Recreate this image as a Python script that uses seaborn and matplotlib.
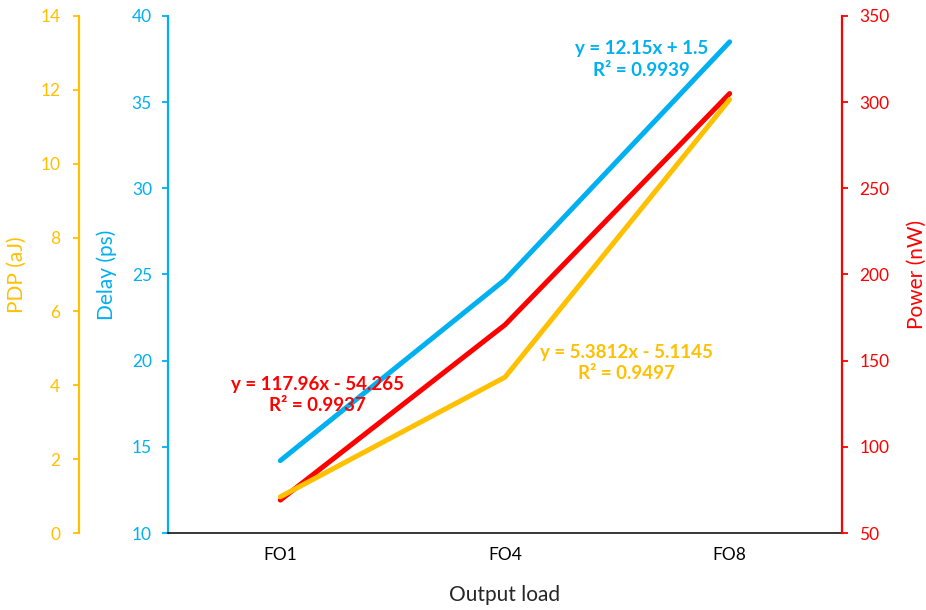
import matplotlib
matplotlib.use("Agg")
import matplotlib.pyplot as plt
import seaborn as sns
import pandas as pd

# values
loads = ["FO1", "FO4", "FO8"]
delay_ps = [14.2, 24.7, 38.5]
power_nw = [69.1, 170.8, 305.0]
pdp_aj = [0.98, 4.22, 11.74]

delay_ticks = [10, 15, 20, 25, 30, 35, 40]
power_ticks = [50, 100, 150, 200, 250, 300, 350]
pdp_ticks = [0, 2, 4, 6, 8, 10, 12, 14]

delay_fit = "y = 12.15x + 1.5\nR² = 0.9939"
power_fit = "y = 117.96x - 54.265\nR² = 0.9937"
pdp_fit = "y = 5.3812x - 5.1145\nR² = 0.9497"

BLUE = "#00B0F0"
RED = "#FF0000"
YELLOW = "#FFC000"

sns.set_style("ticks")
plt.rcParams["font.family"] = ["Lato", "DejaVu Sans"]

df = pd.DataFrame({"load": loads, "delay": delay_ps, "power": power_nw, "pdp": pdp_aj})

fig = plt.figure(figsize=(9.26, 6.10), dpi=100)
ax = fig.add_axes([0.1814, 0.1262, 0.7279, 0.8476])
ax_p = ax.twinx()
ax_e = ax.twinx()

line_kw = dict(lw=3.6, solid_capstyle="round", sort=False)
sns.lineplot(data=df, x="load", y="delay", ax=ax, color=BLUE, **line_kw)
sns.lineplot(data=df, x="load", y="power", ax=ax_p, color=RED, **line_kw)
sns.lineplot(data=df, x="load", y="pdp", ax=ax_e, color=YELLOW, **line_kw)

ax.set_xlim(-0.5, 2.5)
ax.set_ylim(10, 40)
ax_p.set_ylim(50, 350)
ax_e.set_ylim(0, 14)
ax.set_yticks(delay_ticks)
ax_p.set_yticks(power_ticks)
ax_e.set_yticks(pdp_ticks)

TICK = 12.5
LABEL = 15

# primary (delay) axis
for s in ["top", "right"]:
    ax.spines[s].set_visible(False)
ax.spines["left"].set_color(BLUE)
ax.spines["left"].set_linewidth(1.6)
ax.spines["bottom"].set_color("black")
ax.spines["bottom"].set_linewidth(1.1)
ax.tick_params(axis="y", colors=BLUE, labelsize=TICK, length=4.5, width=1.3, pad=7)
ax.tick_params(axis="x", length=0, labelsize=TICK, pad=10, colors="black")
ax.set_ylabel("Delay (ps)", color=BLUE, fontsize=LABEL)
ax.yaxis.set_label_coords(-0.0757, 0.5)
ax.set_xlabel("Output load", fontsize=LABEL)
ax.xaxis.set_label_coords(0.5, -0.1)

# power axis on the right
for s in ["top", "left", "bottom"]:
    ax_p.spines[s].set_visible(False)
ax_p.spines["right"].set_color(RED)
ax_p.spines["right"].set_linewidth(1.6)
ax_p.tick_params(axis="y", colors=RED, labelsize=TICK, length=4.5, width=1.3, pad=8)
ax_p.set_ylabel("Power (nW)", color=RED, fontsize=LABEL)
ax_p.yaxis.set_label_coords(1.0964, 0.5)

# pdp axis, offset to the far left (89 px = 64 pt)
for s in ["top", "right", "bottom"]:
    ax_e.spines[s].set_visible(False)
ax_e.spines["left"].set_visible(True)
ax_e.spines["left"].set_position(("outward", 64))
ax_e.spines["left"].set_color(YELLOW)
ax_e.spines["left"].set_linewidth(1.6)
ax_e.yaxis.set_ticks_position("left")
ax_e.yaxis.set_label_position("left")
ax_e.tick_params(axis="y", colors=YELLOW, labelsize=TICK, length=4.5, width=1.3, pad=9)
ax_e.set_ylabel("PDP (aJ)", color=YELLOW, fontsize=LABEL)
ax_e.yaxis.set_label_coords(-0.209, 0.5)

# trendline equations
txt_kw = dict(transform=ax.transAxes, ha="center", va="center", fontsize=13.5,
              fontweight="bold", linespacing=1.3)
ax_e.text(0.702, 0.916, delay_fit, color=BLUE, **txt_kw)
ax_e.text(0.222, 0.267, power_fit, color=RED, **txt_kw)
ax_e.text(0.680, 0.329, pdp_fit, color=YELLOW, **txt_kw)

fig.savefig("out.png", dpi=100)
